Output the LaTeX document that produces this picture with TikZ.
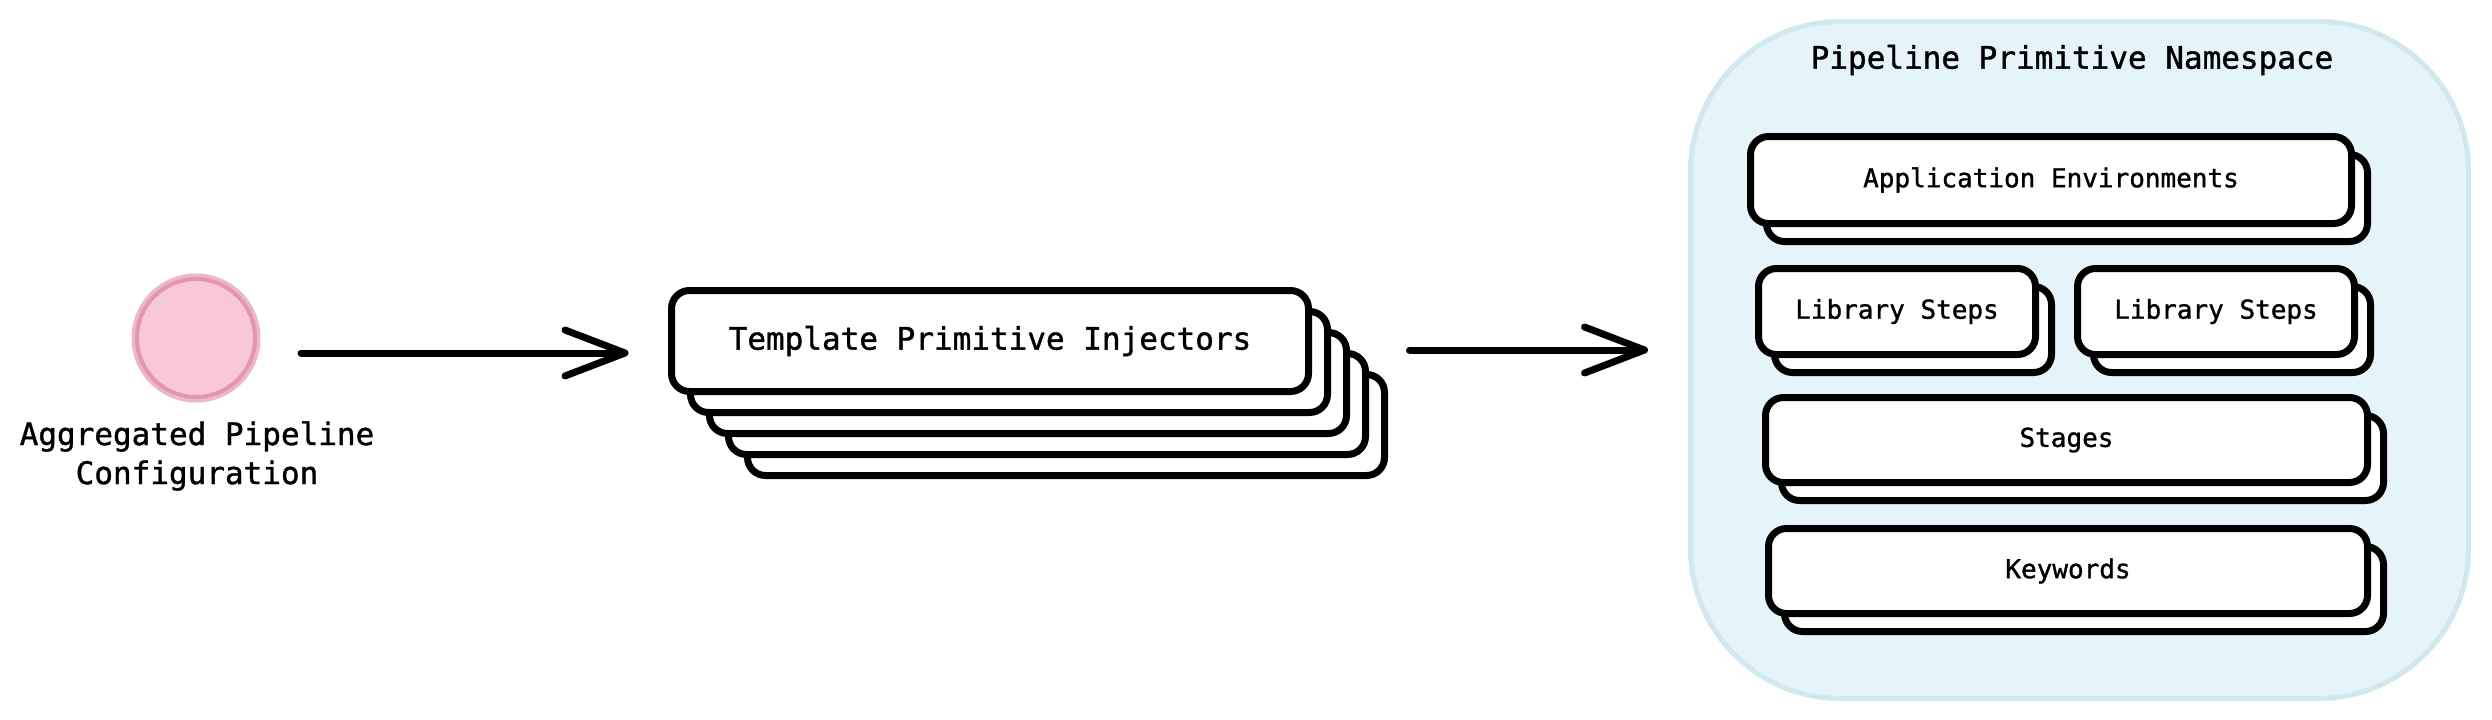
\documentclass[tikz,border=0pt]{standalone}
\usepackage{fontspec}
\newfontfamily\diagfont[FakeBold=1.2]{DejaVu Sans Mono}
\usetikzlibrary{arrows.meta}
\definecolor{pinkfill}{RGB}{248,200,216}
\definecolor{pinkline}{RGB}{226,150,180}
\definecolor{pinkhalo}{RGB}{238,182,202}
\definecolor{nsfill}{RGB}{228,244,248}
\definecolor{nsline}{RGB}{208,232,238}
\tikzset{
  stackbox/.style={draw=black, line width=7pt, fill=white, rounded corners=18pt,
    inner sep=0pt, outer sep=0pt},
  bigtext/.style={font=\diagfont\fontsize{31}{39}\selectfont},
  smalltext/.style={font=\diagfont\fontsize{26}{32}\selectfont},
  flowarrow/.style={line width=7pt, line cap=round,
    -{Straight Barb[length=60pt,width=46pt,round]}},
}
\begin{document}
\begin{tikzpicture}[x=1pt,y=-1pt]
\useasboundingbox (0,0) rectangle (2492,720);
\fill[white] (0,0) rectangle (2492,720);

% source circle
\node[circle, draw=pinkhalo, line width=9pt, minimum size=120pt, inner sep=0pt] (halo) at (196,338) {};
\node[circle, fill=pinkfill, draw=pinkline, line width=4pt, minimum size=118pt, inner sep=0pt] (circ) at (196,338) {};
\node[bigtext, align=center] (circlabel) at (197,456) {Aggregated Pipeline\\Configuration};

% template primitive injectors stack
\foreach \i in {4,3,2,1} {
  \node[stackbox, minimum width=637pt, minimum height=101pt] (tpi\i) at ({990+19*\i},{341+21*\i}) {};
}
\node[stackbox, minimum width=637pt, minimum height=101pt, bigtext] (tpi) at (990,341) {Template Primitive Injectors};

% namespace container
\node[draw=nsline, fill=nsfill, line width=5pt, rounded corners=150pt,
  minimum width=778pt, minimum height=677pt, inner sep=0pt] (ns) at (2079.5,360) {};
\node[bigtext] (nstitle) at (2072,60) {Pipeline Primitive Namespace};

% inner stacks
\node[stackbox, minimum width=601pt, minimum height=87pt] (app1) at (2067,198) {};
\node[stackbox, minimum width=601pt, minimum height=87pt, smalltext] (app) at (2051,180) {Application Environments};

\node[stackbox, minimum width=277pt, minimum height=86pt] (libl1) at (1913,329.5) {};
\node[stackbox, minimum width=277pt, minimum height=86pt, smalltext] (libl) at (1897,311.5) {Library Steps};

\node[stackbox, minimum width=277pt, minimum height=86pt] (libr1) at (2232,329.5) {};
\node[stackbox, minimum width=277pt, minimum height=86pt, smalltext] (libr) at (2216,311.5) {Library Steps};

\node[stackbox, minimum width=602pt, minimum height=85pt] (stg1) at (2082.5,458) {};
\node[stackbox, minimum width=602pt, minimum height=85pt, smalltext] (stg) at (2066.5,440) {Stages};

\node[stackbox, minimum width=599pt, minimum height=85pt] (kw1) at (2084,589) {};
\node[stackbox, minimum width=599pt, minimum height=85pt, smalltext] (kw) at (2068,571) {Keywords};

% connectors
\draw[flowarrow, shorten <=44pt, shorten >=43pt]
  ([yshift=-15pt]circ.east) -- ([yshift=-12pt]tpi.west);
\draw[flowarrow, shorten <=101pt, shorten >=40pt]
  ([yshift=-9pt]tpi.east) -- ([yshift=10pt]ns.west);
\end{tikzpicture}
\end{document}
